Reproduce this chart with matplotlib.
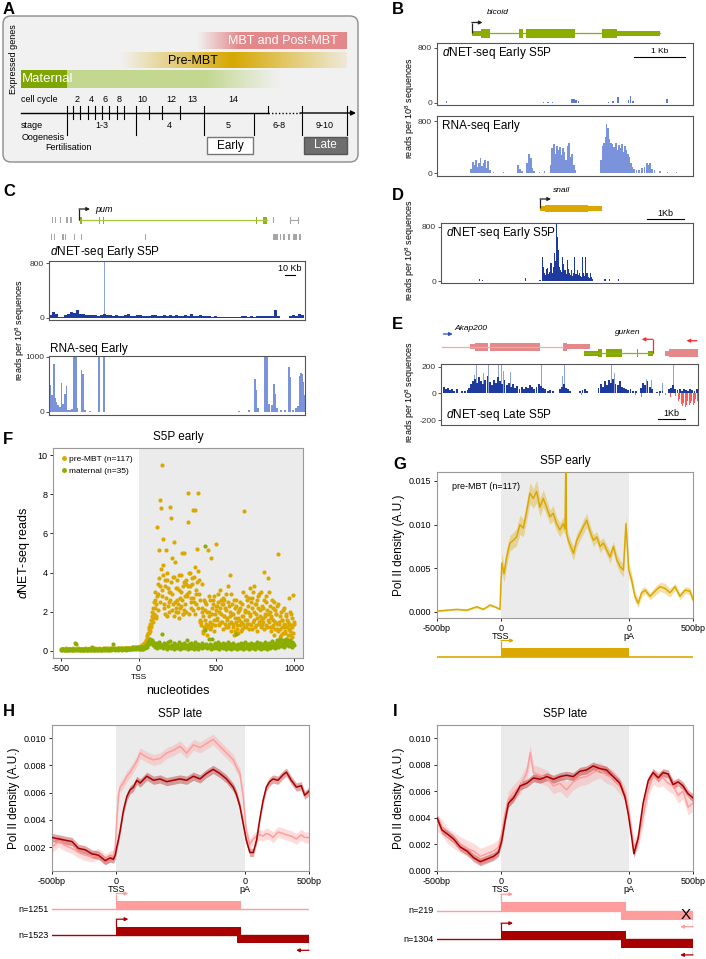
import numpy as np
import matplotlib
matplotlib.use('Agg')
import matplotlib.pyplot as plt
from matplotlib.patches import Rectangle, FancyBboxPatch
from matplotlib.colors import to_rgb
from matplotlib.lines import Line2D

plt.rcParams['font.family'] = ['Liberation Sans', 'DejaVu Sans']
plt.rcParams['mathtext.fontset'] = 'custom'
plt.rcParams['mathtext.rm'] = 'Liberation Sans'
plt.rcParams['mathtext.it'] = 'Liberation Sans:italic'
plt.rcParams['axes.unicode_minus'] = False

# ---------------- data ----------------
# panel A
cell_cycles = ['2', '4', '6', '8', '10', '12', '13', '14']
stages = ['1-3', '4', '5', '6-8', '9-10']

# panel B (bicoid), positions in kb
B_dnet = [(0.19, 30), (2.08, 20), (2.17, 15), (2.26, 20), (2.64, 50), (2.68, 60), (2.71, 40),
          (2.76, 25), (3.35, 20), (3.44, 25), (3.53, 80), (3.74, 40), (3.78, 100), (3.83, 30),
          (4.49, 50)]
B_rna = [(0.66, 60), (0.70, 170), (0.73, 120), (0.76, 200), (0.79, 90), (0.82, 150), (0.85, 230),
         (0.88, 110), (0.91, 160), (0.94, 200), (0.97, 80), (1.00, 190), (1.03, 40), (1.10, 10),
         (1.30, 8), (1.58, 120), (1.62, 60), (1.66, 30), (1.76, 150), (1.80, 300), (1.83, 230),
         (1.86, 80), (1.90, 30), (2.00, 20), (2.10, 30), (2.22, 120), (2.25, 380), (2.28, 440),
         (2.31, 300), (2.34, 420), (2.37, 360), (2.40, 400), (2.43, 280), (2.46, 390), (2.49, 330),
         (2.52, 200), (2.55, 420), (2.58, 460), (2.61, 250), (2.64, 300), (2.67, 120), (2.70, 40),
         (3.20, 200), (3.23, 420), (3.26, 460), (3.29, 560), (3.31, 760), (3.34, 690), (3.37, 520),
         (3.40, 460), (3.43, 440), (3.46, 400), (3.49, 460), (3.52, 350), (3.55, 430), (3.58, 380),
         (3.61, 440), (3.64, 330), (3.67, 420), (3.70, 360), (3.73, 300), (3.76, 250), (3.79, 160),
         (3.82, 90), (3.85, 60), (3.90, 50), (3.95, 40), (4.00, 70), (4.05, 100), (4.10, 160),
         (4.13, 130), (4.16, 150), (4.20, 60), (4.25, 40), (4.35, 25), (4.50, 15), (4.68, 20)]
bcd_utr = [(0.68, 0.86), (3.52, 4.36)]
bcd_exons = [(0.86, 1.04), (1.60, 1.68), (1.74, 2.70), (3.22, 3.52)]

# panel C (pum), positions in kb, 3 kb bins for the low dNET signal
C_dnet_floor = [40, 90, 60, 10, 5, 40, 60, 90, 70, 110,
                60, 50, 40, 45, 35, 40, 30, 45, 60, 40,
                35, 30, 40, 25, 30, 35, 60, 25, 30, 45,
                35, 20, 30, 25, 35, 40, 30, 20, 35, 25,
                40, 30, 45, 20, 30, 40, 25, 50, 30, 20,
                35, 25, 30, 20, 15, 20, 10, 15, 5, 15,
                5, 10, 5, 15, 20, 25, 10, 30, 15, 25,
                20, 30, 25, 30, 20, 120, 30, 0, 0, 0,
                30, 40, 30, 50, 40]
C_dnet_peaks = [(5, 505), (6, 140), (20, 760), (22, 840), (27, 613), (28, 211), (54, 825),
                (55.5, 840), (80, 152), (88, 235), (140, 172), (150, 103), (226, 840),
                (245, 201), (250, 172)]
C_rna = [(0.5, 500), (1.5, 480), (3, 300), (4, 200), (5, 880), (6, 250), (7.5, 180), (9, 120),
         (11, 80), (12.5, 530), (14, 150), (16, 330), (17.5, 470), (19, 40), (21, 40), (23, 50),
         (25, 1000), (26, 1000), (27, 1000), (28, 60), (32.5, 770), (34, 680), (36, 40), (41, 20),
         (50, 1000), (55, 1000), (190, 20), (200, 30), (206, 590), (207.5, 390), (209, 60),
         (216, 1000), (217, 1000), (218, 1000), (220, 150), (223, 120), (225, 500), (226.5, 330),
         (228, 60), (232, 40), (236, 30), (240, 820), (241, 640), (244, 40), (247, 60), (249, 100),
         (251, 660), (252, 700), (253, 690), (254, 550), (255, 300)]
pum_exons = [(30.5, 33), (50, 51), (53.5, 54.5), (207, 208), (214, 218)]
C_other1 = [(3, 4), (5.5, 6.5), (11, 12), (17, 19), (21, 23), (223.5, 225)]
C_other2 = [(2, 3), (4.5, 5.5), (13, 14.5), (15.5, 17), (25, 26), (32, 33), (96, 97), (224, 229),
            (231, 232), (234, 236), (239, 241), (244, 248), (250, 252)]

# panel D (snail)
D_dnet = [(1.04, 25), (1.13, 20), (2.31, 40), (2.70, 15), (2.76, 350), (2.79, 210), (2.82, 120),
          (2.85, 90), (2.88, 180), (2.91, 186), (2.94, 100), (2.97, 140), (3.00, 260), (3.03, 120),
          (3.06, 200), (3.09, 407), (3.12, 300), (3.14, 834), (3.17, 653), (3.20, 456), (3.23, 200),
          (3.26, 162), (3.29, 140), (3.32, 358), (3.35, 250), (3.38, 162), (3.41, 100), (3.44, 309),
          (3.47, 180), (3.50, 113), (3.53, 90), (3.56, 162), (3.59, 80), (3.62, 120), (3.65, 348),
          (3.68, 110), (3.71, 162), (3.74, 90), (3.77, 120), (3.80, 70), (3.83, 60), (3.86, 348),
          (3.89, 120), (3.92, 80), (3.95, 348), (3.98, 113), (4.01, 60), (4.04, 40), (4.07, 113),
          (4.10, 60), (4.13, 30), (4.47, 30), (4.59, 25), (4.83, 35)]

# panel E (Akap200 / gurken), sense and antisense reads
E_dnet = [(0.02, 35), (0.10, 45), (0.18, 30), (0.26, 40), (0.34, 25), (0.42, 35), (0.50, 20),
          (0.60, 30), (0.80, 15), (0.90, 20), (1.00, 25), (1.05, 40), (1.12, 70), (1.20, 90),
          (1.28, 110), (1.36, 80), (1.44, 120), (1.50, 95), (1.58, 70), (1.66, 100), (1.74, 130),
          (1.82, 85), (1.90, 60), (1.98, 100), (2.06, 75), (2.14, 120), (2.22, 90), (2.30, 70),
          (2.38, 100), (2.46, 60), (2.54, 80), (2.62, 50), (2.70, 70), (2.78, 40), (2.86, 55),
          (2.94, 30), (3.02, 45), (3.10, 35), (3.18, 50), (3.26, 40), (3.34, 60), (3.42, 45),
          (3.50, 35), (3.58, 50), (3.66, 70), (3.74, 55), (3.82, 40), (3.90, 30), (4.00, 20),
          (4.10, 25), (4.20, 15), (4.45, 30), (4.52, 50), (4.60, 70), (4.68, 40), (4.76, 30),
          (4.84, 15), (5.20, 15), (5.30, 25), (5.40, 35), (5.48, 20), (5.90, 40), (5.98, 70),
          (6.06, 50), (6.14, 90), (6.22, 60), (6.30, 100), (6.38, 80), (6.46, 110), (6.54, 70),
          (6.62, 60), (6.70, 90), (6.78, 50), (6.86, 40), (6.94, 30), (7.02, 25), (7.10, 35),
          (7.18, 20), (7.30, 15), (7.50, 40), (7.58, 80), (7.66, 60), (7.74, 90), (7.82, 50),
          (7.90, 30), (8.10, 10), (8.20, 15), (8.30, 20), (8.55, 30), (8.62, 40), (8.70, 60),
          (8.78, 30), (8.86, 25), (8.94, 35), (9.02, 20), (9.10, 30), (9.18, 25), (9.26, 20),
          (9.34, 30), (9.42, 25), (9.50, 20), (9.58, 30)]
E_dnet_peaks = [(1.26, 140), (1.34, 230), (1.46, 230), (1.60, 150), (1.77, 230), (2.02, 230),
                (2.15, 230), (2.27, 230), (2.33, 170), (2.60, 160), (3.30, 120), (3.64, 230),
                (3.77, 230), (4.55, 130), (4.64, 230), (5.40, 100), (6.00, 130), (6.39, 230),
                (6.50, 150), (7.70, 110), (7.90, 100), (8.30, 80), (8.70, 230), (9.10, 90)]
E_antisense = [(5.25, -15), (7.30, -10), (7.50, -30), (7.72, -25), (7.98, -40), (8.20, -20),
               (8.42, -15), (8.60, -30), (8.78, -20), (8.90, -60), (8.95, -45), (9.00, -80),
               (9.05, -95), (9.10, -70), (9.15, -100), (9.20, -85), (9.25, -60), (9.30, -90),
               (9.35, -75), (9.40, -55), (9.45, -90), (9.50, -70), (9.55, -40), (9.60, -60)]
akap_exons_thick = [(1.27, 1.76), (1.84, 3.71), (4.57, 4.72)]
akap_exons_thin = [(1.09, 1.27), (4.72, 5.58)]
grk_exons_thick = [(5.89, 6.04), (6.18, 6.80), (7.33, 7.40)]
grk_exons_thin = [(5.37, 5.89), (7.76, 7.93)]
right_gene_thick = [(8.55, 9.63)]
right_gene_thin = [(8.39, 8.55)]

# panel F: dNET-seq reads per nucleotide (every 5 nt from -500 to 1000)
F_pre_mbt = [0.1, 0.08, 0.12, 0.09, 0.11, 0.07, 0.1, 0.13, 0.08, 0.1,
             0.09, 0.12, 0.1, 0.08, 0.11, 0.14, 0.09, 0.1, 0.12, 0.08,
             0.1, 0.09, 0.13, 0.11, 0.08, 0.1, 0.12, 0.09, 0.07, 0.11,
             0.1, 0.14, 0.09, 0.12, 0.1, 0.08, 0.11, 0.13, 0.1, 0.09,
             0.12, 0.1, 0.08, 0.11, 0.14, 0.1, 0.09, 0.12, 0.1, 0.13,
             0.11, 0.09, 0.12, 0.1, 0.15, 0.11, 0.09, 0.12, 0.1, 0.13,
             0.12, 0.1, 0.14, 0.11, 0.09, 0.13, 0.12, 0.1, 0.15, 0.11,
             0.13, 0.1, 0.12, 0.16, 0.11, 0.13, 0.1, 0.14, 0.12, 0.15,
             0.13, 0.11, 0.15, 0.12, 0.14, 0.17, 0.13, 0.15, 0.12, 0.16,
             0.14, 0.18, 0.13, 0.16, 0.15, 0.19, 0.14, 0.17, 0.16, 0.2,
             0.15, 0.2, 0.12, 0.25, 0.2, 0.3, 0.22, 0.35, 0.3, 0.45,
             0.55, 0.8, 0.6, 1.1, 0.9, 1.4, 1.2, 1.8, 1.5, 2.2,
             1.9, 2.6, 1.7, 2.4, 6.35, 2.9, 5.15, 3.3, 7.7, 7.3,
             9.5, 5.7, 4.4, 2.4, 3.6, 5.15, 4.0, 1.8, 3.2, 2.5,
             3.0, 7.37, 6.77, 4.73, 2.4, 5.58, 3.8, 4.55, 2.2, 2.6,
             3.2, 2.0, 3.9, 2.7, 3.0, 2.3, 5.0, 1.9, 3.5, 5.0,
             2.4, 3.4, 2.9, 8.05, 6.6, 4.0, 3.3, 2.2, 2.7, 3.7,
             7.2, 2.5, 4.3, 7.2, 2.9, 5.19, 4.1, 8.05, 3.6, 1.5,
             1.3, 3.4, 2.0, 1.0, 2.6, 1.6, 2.1, 2.4, 1.2, 5.15,
             1.8, 2.8, 1.1, 4.73, 2.2, 1.4, 2.6, 1.0, 1.9, 2.3,
             5.44, 1.6, 2.5, 1.3, 2.0, 3.1, 1.5, 2.4, 1.1, 2.7,
             1.8, 2.2, 1.2, 2.9, 1.6, 3.3, 1.4, 2.0, 3.9, 1.0,
             2.4, 1.2, 1.9, 0.8, 2.2, 1.5, 2.6, 1.1, 1.7, 2.1,
             1.3, 2.5, 1.0, 1.8, 3.0, 1.4, 7.12, 2.0, 1.2, 2.6,
             1.6, 2.3, 1.1, 3.2, 1.9, 1.3, 2.7, 1.5, 3.3, 2.0,
             1.2, 2.4, 1.7, 1.0, 2.8, 1.4, 2.1, 1.6, 3.0, 1.3,
             2.2, 1.1, 4.04, 1.8, 2.5, 1.2, 1.9, 3.7, 1.5, 2.3,
             1.0, 1.7, 2.6, 1.3, 0.8, 2.1, 1.5, 1.9, 1.1, 2.4,
             4.95, 1.4, 0.7, 2.0, 1.2, 1.6, 0.9, 2.2, 1.3, 1.0,
             1.8, 0.6, 1.5, 2.7, 1.1, 0.8, 1.9, 1.2, 0.7, 2.85,
             1.4]
# pre-MBT reads at the in-between nucleotides (2.5, 7.5, ... 997.5)
F_pre_mbt_mid = [0.2, 0.15, 0.25, 0.18, 0.3, 0.25, 0.28, 0.4, 0.35, 0.5,
                 0.7, 0.6, 0.9, 1.2, 1.0, 1.6, 1.3, 2.0, 1.7, 2.5,
                 2.2, 3.0, 1.8, 2.8, 3.4, 2.1, 3.7, 2.5, 4.2, 3.1,
                 2.8, 3.9, 2.2, 3.3, 1.9, 2.7, 3.6, 2.3, 3.0, 2.0,
                 2.6, 3.5, 2.1, 2.9, 3.8, 1.8, 2.5, 3.2, 2.0, 3.6,
                 2.4, 1.7, 3.1, 2.2, 3.9, 2.6, 1.9, 3.3, 2.1, 2.8,
                 3.6, 2.0, 2.8, 3.3, 1.9, 3.0, 4.0, 2.5, 3.4, 2.1,
                 2.7, 3.8, 1.9, 3.1, 2.4, 3.5, 2.2, 2.9, 1.6, 2.6,
                 1.5, 2.2, 0.9, 1.8, 1.2, 2.5, 1.4, 0.8, 2.0, 1.3,
                 2.0, 1.5, 2.6, 1.2, 1.9, 2.4, 1.6, 2.8, 1.3, 2.1,
                 2.3, 1.7, 2.9, 1.4, 2.2, 1.9, 2.6, 1.5, 2.4, 1.8,
                 2.6, 1.4, 2.1, 1.7, 2.5, 1.2, 2.3, 1.8, 2.9, 1.5,
                 1.9, 1.4, 2.6, 1.0, 1.7, 2.3, 1.3, 2.0, 0.9, 1.6,
                 2.2, 1.5, 1.1, 2.4, 1.8, 1.2, 2.1, 1.6, 2.8, 1.4,
                 2.0, 2.7, 1.4, 1.8, 2.5, 1.1, 2.2, 3.0, 1.6, 2.4,
                 1.9, 1.3, 2.6, 2.2, 1.5, 2.9, 1.8, 1.2, 2.3, 1.7,
                 1.5, 2.6, 1.9, 1.3, 2.8, 2.1, 1.6, 3.0, 1.2, 2.0,
                 1.8, 1.2, 2.2, 1.6, 2.5, 1.1, 1.9, 1.4, 2.3, 1.0,
                 1.5, 1.1, 1.8, 0.8, 1.6, 2.1, 1.2, 1.4, 0.9, 1.9,
                 1.2, 1.6, 0.8, 1.4, 2.0, 1.0, 1.3, 1.7, 0.9, 1.5]
F_maternal = [0.05, 0.08, 0.04, 0.1, 0.06, 0.03, 0.09, 0.05, 0.07, 0.04,
              0.08, 0.05, 0.1, 0.06, 0.04, 0.09, 0.07, 0.05, 0.4, 0.35,
              0.06, 0.08, 0.04, 0.1, 0.05, 0.07, 0.12, 0.06, 0.04, 0.09,
              0.05, 0.08, 0.06, 0.11, 0.04, 0.07, 0.09, 0.05, 0.08, 0.06,
              0.2, 0.05, 0.09, 0.07, 0.04, 0.1, 0.06, 0.08, 0.05, 0.12,
              0.07, 0.04, 0.09, 0.06, 0.1, 0.05, 0.08, 0.13, 0.06, 0.09,
              0.05, 0.1, 0.07, 0.12, 0.06, 0.09, 0.15, 0.35, 0.08, 0.11,
              0.06, 0.1, 0.08, 0.13, 0.07, 0.11, 0.09, 0.14, 0.06, 0.1,
              0.12, 0.08, 0.15, 0.1, 0.07, 0.13, 0.11, 0.16, 0.09, 0.12,
              0.1, 0.15, 0.12, 0.18, 0.1, 0.14, 0.2, 0.12, 0.16, 0.18,
              0.1, 0.15, 0.08, 0.2, 0.12, 0.18, 0.1, 0.22, 0.15, 0.25,
              0.3, 0.2, 0.45, 0.35, 0.5, 0.6, 0.4, 0.55, 0.3, 0.45,
              0.35, 0.2, 0.4, 0.25, 0.15, 0.3, 0.45, 0.2, 0.35, 0.25,
              0.89, 0.3, 0.15, 0.4, 0.2, 0.35, 0.1, 0.3, 0.45, 0.2,
              0.25, 0.5, 0.15, 0.3, 0.2, 0.4, 0.1, 0.35, 0.25, 0.15,
              0.3, 0.2, 0.45, 0.1, 0.25, 0.35, 0.15, 0.3, 0.2, 0.4,
              0.15, 0.3, 0.55, 0.2, 0.1, 0.35, 0.25, 0.15, 0.4, 0.2,
              0.3, 0.1, 0.25, 0.45, 0.2, 0.15, 0.35, 0.1, 0.3, 0.2,
              0.25, 0.4, 0.15, 0.3, 0.2, 1.06, 5.36, 0.35, 0.15, 0.25,
              0.6, 0.2, 0.35, 0.1, 0.3, 0.63, 0.25, 0.15, 0.4, 0.2,
              0.3, 0.15, 0.45, 0.25, 0.1, 0.35, 0.2, 0.3, 0.15, 0.4,
              0.2, 0.35, 0.1, 0.3, 0.25, 0.45, 0.15, 0.2, 0.35, 0.1,
              0.3, 0.2, 0.4, 0.15, 0.25, 0.89, 0.3, 0.1, 0.35, 0.2,
              0.25, 0.15, 0.4, 0.3, 0.1, 0.35, 0.2, 0.45, 0.15, 0.3,
              0.2, 0.35, 0.1, 0.3, 0.25, 0.4, 0.15, 0.3, 0.2, 0.35,
              0.1, 0.3, 0.45, 0.2, 0.25, 0.15, 0.4, 0.3, 0.1, 0.35,
              0.2, 0.3, 0.15, 0.45, 0.25, 0.1, 0.35, 0.2, 0.4, 0.15,
              0.3, 0.25, 0.5, 0.2, 0.35, 0.15, 0.4, 0.3, 0.55, 0.2,
              0.35, 0.45, 0.6, 0.25, 0.4, 0.3, 0.55, 0.2, 0.45, 0.35,
              0.6, 0.3, 0.5, 0.4, 0.25, 0.55, 0.35, 0.45, 0.2, 0.4,
              0.3]
F_nt = np.arange(-500, 1001, 5)
F_nt_mid = np.arange(2.5, 1000, 5)

# panel G-I metagene profiles; x is scaled: 0=-500bp, 250=TSS, 750=pA, 1000=+500bp
G_x = [0, 38, 77, 116, 155, 181, 207, 233, 246,
       253, 262, 272, 285, 298, 311, 324, 337, 350, 363, 376, 389, 402, 415, 428, 441, 454, 467,
       480, 493, 500, 503, 506, 513, 533, 546, 559, 572, 585, 598, 611, 624, 637, 650, 663, 676,
       689, 702, 715, 728, 738, 749,
       760, 773, 786, 799, 813, 832, 852, 871, 891, 910, 930, 949, 969, 988, 1000]
G_pre_mbt = [0.0001, 0.0002, 0.0003, 0.0002, 0.0006, 0.0003, 0.0008, 0.0005, 0.0003,
             0.0056, 0.0044, 0.0063, 0.0079, 0.0082, 0.0086, 0.0100, 0.0096, 0.0115, 0.0136,
             0.0130, 0.0138, 0.0120, 0.0130, 0.0120, 0.0109, 0.0113, 0.0101, 0.0094, 0.0101,
             0.0095, 0.0165, 0.0090, 0.0082, 0.0067, 0.0082, 0.0090, 0.0098, 0.0105, 0.0092,
             0.0082, 0.0086, 0.0075, 0.0079, 0.0071, 0.0063, 0.0075, 0.0060, 0.0052, 0.0048,
             0.0101, 0.0048,
             0.0037, 0.0018, 0.0010, 0.0022, 0.0025, 0.0018, 0.0024, 0.0029, 0.0027, 0.0022,
             0.0029, 0.0018, 0.0025, 0.0024, 0.0014]
G_se = [0.0001, 0.0001, 0.0001, 0.0001, 0.00015, 0.0001, 0.00015, 0.0001, 0.0001,
        0.0012, 0.0010, 0.0010, 0.0009, 0.0009, 0.0010, 0.0011, 0.0010, 0.0011, 0.0012,
        0.0011, 0.0013, 0.0011, 0.0010, 0.0009, 0.0008, 0.0009, 0.0008, 0.0008, 0.0008,
        0.0007, 0.0007, 0.0007, 0.0007, 0.0008, 0.0008, 0.0007, 0.0008, 0.0008, 0.0007,
        0.0007, 0.0006, 0.0007, 0.0006, 0.0006, 0.0007, 0.0006, 0.0007, 0.0007, 0.0008,
        0.0009, 0.0008,
        0.0008, 0.0006, 0.0005, 0.0005, 0.0004, 0.0004, 0.0005, 0.0005, 0.0006, 0.0005,
        0.0004, 0.0004, 0.0004, 0.0004, 0.0004]

H_x = [0, 26, 52, 78, 103, 129, 155, 181, 207, 226, 239, 246, 252, 259, 265, 278, 291, 304, 317,
       330, 343, 369, 395, 420, 446, 472, 498, 524, 550, 576, 601, 627, 653, 679, 705, 717, 731,
       744, 756, 770, 783, 796, 808, 821, 834, 847, 860, 879, 899, 912, 931, 951, 970, 983, 1000]
H_n1523 = [0.0027, 0.0026, 0.0025, 0.0024, 0.0019, 0.0018, 0.0015, 0.0014, 0.0010, 0.0012,
           0.0011, 0.0014, 0.0020, 0.0026, 0.0032, 0.0047, 0.0057, 0.0062, 0.0064, 0.0069,
           0.0067, 0.0072, 0.0069, 0.0070, 0.0068, 0.0069, 0.0070, 0.0069, 0.0072, 0.0070,
           0.0074, 0.0077, 0.0074, 0.0070, 0.0064, 0.0059, 0.0050, 0.0037, 0.0025, 0.0016,
           0.0016, 0.0025, 0.0040, 0.0054, 0.0064, 0.0068, 0.0070, 0.0069, 0.0073, 0.0075,
           0.0069, 0.0064, 0.0065, 0.0058, 0.0061]
H_n1251 = [0.0020, 0.0024, 0.0021, 0.0019, 0.0016, 0.0014, 0.0013, 0.0015, 0.0011, 0.0013,
           0.0014, 0.0020, 0.0040, 0.0059, 0.0064, 0.0067, 0.0072, 0.0075, 0.0079, 0.0083,
           0.0089, 0.0086, 0.0084, 0.0085, 0.0089, 0.0091, 0.0094, 0.0089, 0.0095, 0.0093,
           0.0096, 0.0099, 0.0094, 0.0089, 0.0084, 0.0079, 0.0074, 0.0057, 0.0032, 0.0022,
           0.0026, 0.0028, 0.0029, 0.0028, 0.0030, 0.0029, 0.0027, 0.0031, 0.0030, 0.0029,
           0.0028, 0.0026, 0.0029, 0.0027, 0.0027]
H_se = [0.0003, 0.0004]

I_x = [0, 19, 39, 65, 91, 117, 143, 169, 195, 221, 240, 253, 266, 279, 299, 325, 351, 364, 377,
       403, 429, 455, 480, 506, 532, 558, 584, 610, 636, 662, 688, 714, 734, 747, 760, 769, 786,
       805, 825, 844, 864, 883, 903, 922, 942, 961, 981, 1000]
I_n1304 = [0.0040, 0.0031, 0.0028, 0.0024, 0.0018, 0.0015, 0.0010, 0.0007, 0.0009, 0.0011,
           0.0014, 0.0023, 0.0038, 0.0051, 0.0055, 0.0064, 0.0066, 0.0068, 0.0070, 0.0069,
           0.0071, 0.0069, 0.0071, 0.0072, 0.0071, 0.0075, 0.0076, 0.0079, 0.0077, 0.0076,
           0.0071, 0.0066, 0.0056, 0.0043, 0.0026, 0.0013, 0.0025, 0.0051, 0.0068, 0.0074,
           0.0070, 0.0074, 0.0073, 0.0065, 0.0067, 0.0064, 0.0058, 0.0055]
I_n219 = [0.0036, 0.0033, 0.0027, 0.0023, 0.0020, 0.0017, 0.0015, 0.0011, 0.0013, 0.0015,
          0.0018, 0.0028, 0.0043, 0.0054, 0.0059, 0.0064, 0.0074, 0.0089, 0.0074, 0.0072,
          0.0070, 0.0064, 0.0066, 0.0061, 0.0067, 0.0070, 0.0071, 0.0074, 0.0076, 0.0072,
          0.0070, 0.0064, 0.0058, 0.0048, 0.0030, 0.0018, 0.0023, 0.0041, 0.0061, 0.0071,
          0.0069, 0.0070, 0.0066, 0.0064, 0.0057, 0.0060, 0.0048, 0.0051]
I_se = [0.0003, 0.0006]

# colours
GOLD = '#dba800'
GREEN = '#8aad00'
NAVY = '#1d3a9c'
LIGHTBLUE = '#8da1dd'
RNABLUE = '#7b93db'
PINK = '#ff9d9d'
DARKRED = '#a80000'
SALMON = '#e4888a'
SHADE = '#ebebeb'

W, H = 706, 959
fig = plt.figure(figsize=(W / 100, H / 100), dpi=100)


def px_axes(x0, y0, x1, y1):
    return fig.add_axes([x0 / W, 1 - y1 / H, (x1 - x0) / W, (y1 - y0) / H])


def model_axes(x0, y0, x1, y1, xmax):
    ax = px_axes(x0, y0, x1, y1)
    ax.set_xlim(0, xmax)
    ax.set_ylim(y1, y0)
    ax.axis('off')
    return ax


def track_axes(x0, y0, x1, y1, xmax, ylo, yhi, yticks):
    ax = px_axes(x0, y0, x1, y1)
    ax.set_xlim(0, xmax)
    ax.set_ylim(ylo, yhi)
    ax.set_xticks([])
    ax.set_yticks(yticks)
    ax.tick_params(axis='y', labelsize=6, length=2, width=0.6, pad=1.5, colors='#333')
    for s in ax.spines.values():
        s.set_color('#555')
        s.set_linewidth(0.8)
    return ax


def bars(ax, pairs, width, color):
    pos, h = zip(*pairs)
    ax.bar(pos, h, width=width, color=color, linewidth=0)


def boxes(ax, spans, yc, hh, color):
    for a, b in spans:
        ax.add_patch(Rectangle((a, yc - hh / 2), b - a, hh, color=color, lw=0))


def bent_arrow(ax, x, y0, y1, x2, color, lw=0.9):
    ax.plot([x, x], [y0, y1], color=color, lw=lw, solid_capstyle='butt')
    ax.annotate('', xy=(x2, y1), xytext=(x, y1),
                arrowprops=dict(arrowstyle='-|>', color=color, lw=lw, mutation_scale=5,
                                shrinkA=0, shrinkB=0))


def gradient(ax, x0, x1, y0, y1, color, alpha_pts):
    xs = np.linspace(x0, x1, 400)
    a = np.interp(xs, [p[0] for p in alpha_pts], [p[1] for p in alpha_pts])
    rgba = np.zeros((1, 400, 4))
    rgba[..., :3] = to_rgb(color)
    rgba[0, :, 3] = a
    ax.imshow(rgba, extent=(x0, x1, y1, y0), aspect='auto', interpolation='bilinear', zorder=1)


def letter(x, y, s):
    fig.text(x / W, 1 - y / H, s, fontsize=12, fontweight='bold', va='center', ha='left')


def ylab(x, y, s, size=6.5):
    fig.text(x / W, 1 - y / H, s, rotation=90, fontsize=size, ha='center', va='center')


DN = r'$\mathit{d}$'
READS = 'reads per 10$^8$ sequences'

# ---------------- A ----------------
axA = px_axes(0, 0, 360, 170)
axA.add_patch(FancyBboxPatch((3, 16), 355, 146, boxstyle='round,pad=0,rounding_size=8',
                             fc='#f1f1f1', ec='#8c8c8c', lw=1.0, zorder=0))
gradient(axA, 197, 347, 32, 49, SALMON, [(197, 0), (240, 1), (347, 1)])
gradient(axA, 120, 347, 52, 68, '#d6a800', [(120, 0), (232, 1), (347, 0.1)])
gradient(axA, 67, 280, 70, 88, '#c3d78f', [(67, 1), (205, 1), (280, 0)])
axA.add_patch(Rectangle((21, 70), 46, 18, color='#7ea500', lw=0, zorder=2))
axA.text(283, 41, 'MBT and Post-MBT', color='white', fontsize=9, ha='center', va='center', zorder=3)
axA.text(193, 60.5, 'Pre-MBT', fontsize=9, ha='center', va='center', zorder=3)
axA.text(22, 79.5, 'Maternal', color='white', fontsize=9.5, ha='left', va='center', zorder=3)
axA.text(13, 59, 'Expressed genes', rotation=90, fontsize=6.5, ha='center', va='center')
axA.text(21, 99, 'cell cycle', fontsize=6.5, va='center')
for xx, lab in zip([77, 91, 105, 119, 142, 171, 192, 233], cell_cycles):
    axA.text(xx, 99, lab, fontsize=6.5, ha='center', va='center')
axA.plot([21, 268], [113, 113], color='k', lw=1)
axA.plot([268, 300], [113, 113], color='k', lw=1, ls=(0, (1, 1.5)))
axA.annotate('', xy=(356, 113), xytext=(300, 113),
             arrowprops=dict(arrowstyle='-|>', color='k', lw=1, mutation_scale=7, shrinkA=0, shrinkB=0))
for xx in [73, 80, 88, 95, 102, 109, 117, 124, 149, 162, 180]:
    axA.plot([xx, xx], [106, 119], color='k', lw=0.8)
for xx in [67, 136, 204, 302, 347]:
    axA.plot([xx, xx], [106, 135], color='k', lw=0.8)
axA.plot([254, 254], [113, 135], color='k', lw=0.8)
axA.plot([268, 268], [106, 113], color='k', lw=0.8)
axA.text(21, 125, 'stage', fontsize=6.5, va='center')
for xx, lab in zip([102, 169, 228, 279, 325], stages):
    axA.text(xx, 125, lab, fontsize=6.5, ha='center', va='center')
axA.text(22, 137, 'Oogenesis', fontsize=6.5, va='center')
axA.text(45, 147, 'Fertilisation', fontsize=6.5, va='center')
axA.add_patch(Rectangle((207, 137), 46, 17, fc='white', ec='#777', lw=1))
axA.text(230, 145.5, 'Early', fontsize=8.5, ha='center', va='center')
axA.add_patch(Rectangle((304, 137), 43, 17, fc='#6e6e6e', ec='#555', lw=1))
axA.text(325.5, 145.5, 'Late', fontsize=8.5, ha='center', va='center', color='white')
axA.set_xlim(0, 360)
axA.set_ylim(170, 0)
axA.axis('off')

# ---------------- B ----------------
axBg = model_axes(437, 8, 693, 42, 5.0)
axBg.plot([0.68, 4.36], [33, 33], color=GREEN, lw=0.9)
boxes(axBg, bcd_utr, 33, 5, GREEN)
boxes(axBg, bcd_exons, 33, 9, GREEN)
bent_arrow(axBg, 0.68, 33, 22.5, 0.89, '#222')
axBg.text(0.98, 13, 'bicoid', fontsize=6, style='italic', ha='left', va='center')

axB1 = track_axes(437, 43, 693, 105, 5.0, -30, 870, [0, 800])
bars(axB1, B_dnet, 0.03, '#5d78cc')
axB1.text(0.02, 0.84, DN + 'NET-seq Early S5P', transform=axB1.transAxes, fontsize=8.5, va='center')
axB1.plot([3.84, 4.84], [670, 670], color='k', lw=0.8)
axB1.text(4.34, 690, '1 Kb', fontsize=6, ha='center', va='bottom')

axB2 = track_axes(437, 116, 693, 176, 5.0, -46, 877, [0, 800])
bars(axB2, B_rna, 0.032, RNABLUE)
axB2.text(0.02, 0.84, 'RNA-seq Early', transform=axB2.transAxes, fontsize=8.5, va='center')
ylab(410, 108, READS)

# ---------------- C ----------------
axCg = model_axes(49, 200, 305, 242, 256)
axCg.plot([30, 218], [220, 220], color='#a8c83c', lw=0.9)
boxes(axCg, pum_exons, 220, 7, '#8cb31a')
boxes(axCg, C_other1, 220, 6, '#a6a6a6')
axCg.plot([241, 249], [220, 220], color='#a6a6a6', lw=0.8)
axCg.plot([241, 241], [217, 223], color='#a6a6a6', lw=0.8)
axCg.plot([249, 249], [217, 223], color='#a6a6a6', lw=0.8)
boxes(axCg, C_other2, 237, 6, '#a6a6a6')
bent_arrow(axCg, 30, 220, 209, 41, '#222')
axCg.text(46, 209, 'pum', fontsize=6.5, style='italic', va='center')

axC1 = track_axes(49, 261, 305, 320, 256, -34, 834, [0, 800])
bars(axC1, C_dnet_peaks, 0.9, LIGHTBLUE)
bars(axC1, list(zip(np.arange(0, 255, 3) + 1.5, C_dnet_floor)), 2.4, NAVY)
axC1.text(0.005, 1.01, DN + 'NET-seq Early S5P', transform=axC1.transAxes, fontsize=8.5, va='bottom')
axC1.plot([236, 246], [630, 630], color='k', lw=0.8)
axC1.text(241, 660, '10 Kb', fontsize=6.5, ha='center', va='bottom')

axC2 = track_axes(49, 356, 305, 415, 256, -60, 1018, [0, 1000])
bars(axC2, C_rna, 1.1, RNABLUE)
axC2.text(0.005, 1.01, 'RNA-seq Early', transform=axC2.transAxes, fontsize=8.5, va='bottom')
ylab(20, 330, READS)

# ---------------- D ----------------
axDg = model_axes(441, 188, 693, 222, 6.87)
boxes(axDg, [(2.70, 2.83), (4.01, 4.38)], 208.6, 4.5, GOLD)
boxes(axDg, [(2.83, 4.01)], 208.6, 7.5, GOLD)
bent_arrow(axDg, 2.70, 208, 199, 3.0, '#222')
axDg.text(3.04, 191, 'snail', fontsize=6, style='italic', va='center')
axDg.plot([5.62, 6.62], [219, 219], color='k', lw=0.8)
axDg.text(6.12, 217.5, '1Kb', fontsize=6.5, ha='center', va='bottom')

axD = track_axes(441, 223, 693, 283, 6.87, -29, 855, [0, 800])
bars(axD, D_dnet, 0.03, NAVY)
axD.text(0.02, 0.84, DN + 'NET-seq Early S5P', transform=axD.transAxes, fontsize=8.5, va='center')
ylab(410, 250, READS)

# ---------------- E ----------------
axEg = model_axes(441, 323, 698, 362, 9.63)
axEg.annotate('', xy=(0.44, 334), xytext=(0.09, 334),
              arrowprops=dict(arrowstyle='-|>', color='#2a4fb5', lw=0.9, mutation_scale=5, shrinkA=0, shrinkB=0))
axEg.text(0.52, 328, 'Akap200', fontsize=6, style='italic', va='center')
axEg.plot([0.03, 4.57], [346.5, 346.5], color='#f0a8a6', lw=0.9)
boxes(axEg, akap_exons_thick, 346.5, 8, SALMON)
boxes(axEg, akap_exons_thin, 346.5, 5, SALMON)
axEg.plot([5.37, 7.93], [353.3, 353.3], color='#8cb31a', lw=0.9)
boxes(axEg, grk_exons_thick, 353.3, 8, '#86a800')
boxes(axEg, grk_exons_thin, 353.3, 5, '#86a800')
bent_arrow(axEg, 7.93, 353, 339.3, 7.52, '#ff2a2a')
axEg.text(7.0, 333, 'gurken', fontsize=6, style='italic', ha='center', va='center')
boxes(axEg, right_gene_thick, 353.3, 8, SALMON)
boxes(axEg, right_gene_thin, 353.3, 5, SALMON)
axEg.annotate('', xy=(9.2, 340.7), xytext=(9.58, 340.7),
              arrowprops=dict(arrowstyle='-|>', color='#ff2a2a', lw=0.9, mutation_scale=5, shrinkA=0, shrinkB=0))

axE = track_axes(441, 364, 698, 425, 9.63, -237, 220, [-200, 0, 200])
bars(axE, E_dnet_peaks, 0.025, LIGHTBLUE)
bars(axE, E_dnet, 0.07, NAVY)
bars(axE, E_antisense, 0.03, '#ff5a5a')
axE.text(0.02, 0.16, DN + 'NET-seq Late S5P', transform=axE.transAxes, fontsize=8.5, va='center')
axE.plot([8.14, 9.14], [-193, -193], color='k', lw=0.8)
axE.text(8.64, -188, '1Kb', fontsize=6.5, ha='center', va='bottom')
ylab(410, 392, READS)

# ---------------- F ----------------
axF = px_axes(53, 448, 303, 658)
axF.axvspan(0, 1058, color=SHADE, lw=0, zorder=0)
axF.scatter(F_nt, F_pre_mbt, s=9, color=GOLD, lw=0, zorder=2)
axF.scatter(F_nt_mid, F_pre_mbt_mid, s=9, color=GOLD, lw=0, zorder=2)
axF.scatter(F_nt, F_maternal, s=9, color=GREEN, lw=0, zorder=3)
axF.set_xlim(-551, 1058)
axF.set_ylim(-0.36, 10.36)
axF.set_xticks([-500, 0, 500, 1000])
axF.set_yticks([0, 2, 4, 6, 8, 10])
axF.tick_params(labelsize=6.5, length=2.5, width=0.6, pad=1.5)
for s in axF.spines.values():
    s.set_color('#999')
axF.text(0, -0.092, 'TSS', transform=axF.get_xaxis_transform(), fontsize=6, ha='center', va='center')
axF.set_xlabel('nucleotides', fontsize=9, labelpad=9)
axF.set_ylabel(DN + 'NET-seq reads', fontsize=9, labelpad=4)
axF.set_title('S5P early', fontsize=8.5, pad=6)
axF.legend(handles=[Line2D([], [], marker='o', ls='', color=GOLD, ms=2.5, label='pre-MBT (n=117)'),
                    Line2D([], [], marker='o', ls='', color=GREEN, ms=2.5, label='maternal (n=35)')],
           loc='upper left', frameon=False, fontsize=6, handletextpad=0.1, borderaxespad=0.4,
           labelspacing=0.6, handlelength=1.0)


# ---------------- G/H/I ----------------
def profile_axes(x0, y0, x1, y1, ylo, yhi, yticks):
    ax = px_axes(x0, y0, x1, y1)
    ax.set_xlim(0, 1000)
    ax.set_ylim(ylo, yhi)
    ax.axvspan(250, 750, color=SHADE, lw=0, zorder=0)
    ax.set_yticks(yticks)
    ax.set_yticklabels([f'{v:.3f}' for v in yticks])
    ax.set_xticks([0, 250, 750, 1000])
    ax.set_xticklabels(['-500bp', '0\nTSS', '0\npA', '500bp'], linespacing=0.9)
    ax.tick_params(labelsize=6.5, length=2.5, width=0.6, pad=1.5)
    for s in ax.spines.values():
        s.set_color('#999')
    ax.set_ylabel('Pol II density (A.U.)', fontsize=8.5, labelpad=3)
    return ax


def profile(ax, x, y, se, color, alpha=0.35):
    y = np.array(y)
    ax.fill_between(x, y - se, y + se, color=color, alpha=alpha, lw=0, zorder=2)
    ax.plot(x, y, color=color, lw=1.1, zorder=3)


axG = profile_axes(437, 472, 693, 618, -0.00069, 0.01603, [0, 0.005, 0.010, 0.015])
profile(axG, G_x, G_pre_mbt, np.array(G_se), GOLD)
axG.text(0.06, 0.9, 'pre-MBT (n=117)', transform=axG.transAxes, fontsize=6.5, va='center')
axG.set_title('S5P early', fontsize=8.5, pad=6)

axGm = model_axes(437, 630, 693, 668, 1000)
axGm.plot([0, 1000], [657, 657], color=GOLD, lw=1.2)
axGm.add_patch(Rectangle((250, 648.3), 500, 9, color=GOLD, lw=0))
bent_arrow(axGm, 250, 648.5, 640.5, 300, GOLD)

axH = profile_axes(52, 725, 309, 871, 0.00024, 0.01096,
                   [0.002, 0.004, 0.006, 0.008, 0.010])
profile(axH, H_x, H_n1251, H_se[1], PINK)
profile(axH, H_x, H_n1523, H_se[0], DARKRED)
axH.set_title('S5P late', fontsize=8.5, pad=6)

axI = profile_axes(437, 725, 693, 871, 0, 0.01098,
                   [0.000, 0.002, 0.004, 0.006, 0.008, 0.010])
profile(axI, I_x, I_n219, I_se[1], PINK)
profile(axI, I_x, I_n1304, I_se[0], DARKRED)
axI.set_title('S5P late', fontsize=8.5, pad=6)


def schematic(x0, x1, rows, labels, readthrough_x):
    ax = model_axes(x0, 885, x1, 959, 1000)
    for (yl, top, col), lab, rt in zip(rows, labels, readthrough_x):
        ax.plot([0, 1000], [yl, yl], color=col, lw=1.0)
        ax.add_patch(Rectangle((250, top), 487, yl - top, color=col, lw=0))
        bent_arrow(ax, 250, top, top - 7.5, 297, col)
        ax.text(-12, yl, lab, fontsize=6.5, ha='right', va='center')
        if rt:
            ax.add_patch(Rectangle((720, yl), 280, yl - top, color=col, lw=0))
            bot = yl + (yl - top)
            ax.plot([1000, 1000], [bot, bot + 7], color=col, lw=0.9)
            ax.annotate('', xy=(950, bot + 7), xytext=(1000, bot + 7),
                        arrowprops=dict(arrowstyle='-|>', color=col, lw=0.9, mutation_scale=5,
                                        shrinkA=0, shrinkB=0))
    return ax


schematic(52, 309, [(909.3, 901, PINK), (935, 926.7, DARKRED)], ['n=1251', 'n=1523'], [False, True])
axIm = schematic(437, 693, [(910.7, 901.7, PINK), (939.3, 930.7, DARKRED)], ['n=219', 'n=1304'],
                 [True, True])
axIm.text(973, 915, 'X', fontsize=11, ha='center', va='center')

# ---------------- letters ----------------
letter(3, 10, 'A')
letter(392, 10, 'B')
letter(3, 192, 'C')
letter(392, 196, 'D')
letter(392, 325, 'E')
letter(3, 440, 'F')
letter(393, 465, 'G')
letter(3, 712, 'H')
letter(393, 712, 'I')

fig.savefig('out.png', dpi=100)
